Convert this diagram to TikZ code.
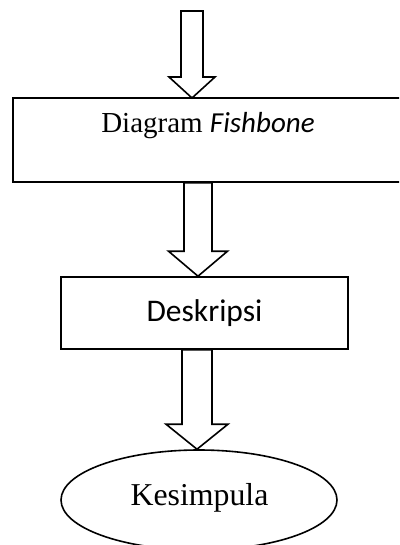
\documentclass[tikz,border=0pt]{standalone}
\usepackage{fontspec}
\setmainfont{Liberation Serif}
\newfontfamily\calibri{Carlito}
\usetikzlibrary{shapes.geometric,calc}
\begin{document}
\begin{tikzpicture}[x=1pt,y=-1pt,
  boxstyle/.style={draw,line width=1.6pt,inner sep=0pt,rectangle},
  ellstyle/.style={draw,line width=1.6pt,inner sep=0pt,ellipse},
  blk/.style={draw,line width=1.6pt,line join=miter,fill=white},
  txt/.style={font=\fontsize{29}{34}\selectfont,inner sep=0pt}]
\useasboundingbox (0,0) rectangle (399,545);
\clip (0,0) rectangle (399,545);
\node[boxstyle,minimum width=407,minimum height=84] (box1) at (216.5,140) {};
\node[txt,anchor=base] (lbl1) at (208,133) {Diagram {\calibri\itshape Fishbone}};
\node[boxstyle,minimum width=287,minimum height=72,txt,font=\calibri\fontsize{31.5}{36}\selectfont] (box2) at (204.5,313) {Deskripsi};
\node[ellstyle,minimum width=276,minimum height=100,txt,font=\fontsize{31.8}{36}\selectfont] (ell) at (199,500) {};
\node[txt,font=\fontsize{31.8}{36}\selectfont,anchor=base] (lbl3) at (199.5,505) {Kesimpula};
\coordinate (s1) at (192,11);
\coordinate (t1) at (192,98);
\coordinate (t2) at ($(box2.north)+(-6.5,0)$);
\coordinate (t3) at ($(ell.north)+(-2,0)$);
% arrow 1
\draw[blk] let \p1=(s1), \p2=(t1) in
  (\x2,\y2) -- (\x2-23pt,\y2+21pt) -- (\x2-11pt,\y2+21pt) -- (\x2-11pt,\y1)
  -- (\x2+11pt,\y1) -- (\x2+11pt,\y2+21pt) -- (\x2+23pt,\y2+21pt) -- cycle;
% arrow 2
\draw[blk] let \p1=(box1.south), \p2=(t2) in
  (\x2,\y2) -- (\x2-29.5pt,\y2+25pt) -- (\x2-14pt,\y2+25pt) -- (\x2-14pt,\y1)
  -- (\x2+14pt,\y1) -- (\x2+14pt,\y2+25pt) -- (\x2+29.5pt,\y2+25pt) -- cycle;
% arrow 3
\draw[blk] let \p1=(box2.south), \p2=(t3) in
  (\x2,\y2) -- (\x2-31pt,\y2+25pt) -- (\x2-15pt,\y2+25pt) -- (\x2-15pt,\y1)
  -- (\x2+15pt,\y1) -- (\x2+15pt,\y2+25pt) -- (\x2+31pt,\y2+25pt) -- cycle;
\end{tikzpicture}
\end{document}
